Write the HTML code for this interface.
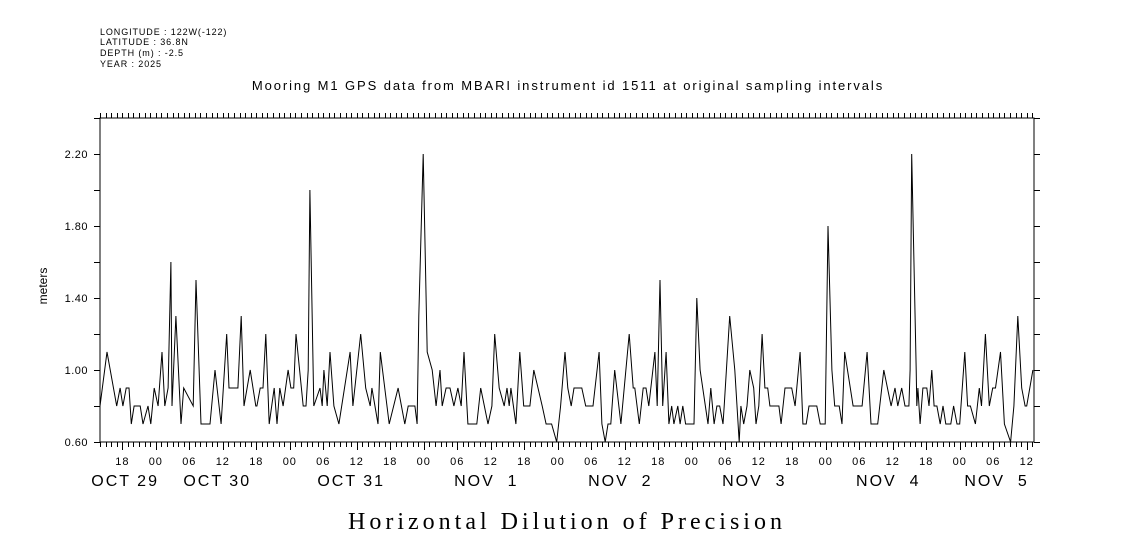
<!DOCTYPE html>
<html><head><meta charset="utf-8"><style>
body{margin:0;background:#fff;width:1121px;height:560px;overflow:hidden}
svg{display:block}
text{font-family:"Liberation Sans",sans-serif;fill:#000}
</style></head><body>
<svg id="chart" width="1121" height="560" xmlns="http://www.w3.org/2000/svg">
<g font-size="9" letter-spacing="0.9">
<text x="100" y="35">LONGITUDE : 122W(-122)</text>
<text x="100" y="45">LATITUDE : 36.8N</text>
<text x="100" y="56">DEPTH (m) : -2.5</text>
<text x="100" y="67">YEAR : 2025</text>
</g>
<text x="568" y="90" font-size="13" letter-spacing="1.9" text-anchor="middle">Mooring M1 GPS data from MBARI instrument id 1511 at original sampling intervals</text>
<text x="567" y="529" font-size="24" letter-spacing="4" text-anchor="middle" style="font-family:'Liberation Serif',serif">Horizontal Dilution of Precision</text>
<text transform="translate(47,286) rotate(-90)" font-size="12" text-anchor="middle">meters</text>
<rect x="100" y="118" width="934" height="324" fill="none" stroke="#000" stroke-width="1"/>
<g id="axes"></g>
<path id="series" fill="none" stroke="#000" stroke-width="1"/>
</svg>
<script>
const times=[0,1.25,3,3.6,4.1,4.7,5.2,5.6,6.1,7.2,7.7,8.6,9.1,9.7,10.4,11.1,11.6,12.2,12.7,12.9,13.6,14.5,15.0,16.7,17.2,18.1,19.7,20.6,21.7,22.7,23.1,24.7,25.3,25.8,26.9,27.9,
28.1,28.7,29.2,29.7,30.3,31.2,31.7,32.2,32.8,33.7,34.2,34.7,35.1,36.4,36.9,37.3,37.6,38.3,39.4,39.8,40.1,40.7,41.2,41.9,42.8,44.8,45.3,46.7,47.6,48.4,48.7,49.8,50.2,51.8,53.4,54.6,55.2,56.2,
56.4,56.8,57.1,57.9,58.6,59.5,60.2,60.9,61.3,62.0,62.7,63.4,64.1,64.7,65.2,65.9,67.5,68.2,69.5,70.2,70.7,71.5,72.4,72.9,73.3,73.6,74.5,75.2,75.9,77.0,77.7,79.2,79.9,80.9,81.8,82.5,83.3,
83.8,84.4,84.9,86.3,87.0,88.3,89.4,89.9,90.5,91.0,91.5,92.2,93.3,94.8,95.5,95.8,96.6,97.3,97.8,98.3,99.4,99.8,100.3,100.8,101.4,101.9,102.4,102.8,103.5,103.9,104.4,104.9,106.4,106.9,107.5,108.9,109.4,110.0,110.5,111.0,111.6,
111.8,112.8,113.7,114.5,114.8,115.3,115.9,116.4,117.1,117.5,118.0,118.6,119.1,119.6,120.0,121.6,122.0,122.7,123.9,124.5,125.4,125.9,126.5,127.0,128.4,129.0,129.9,130.4,131.1,131.6,132.4,132.9,133.4,134.9,136.5,137.4,138.1,139.3,
140.4,141.7,142.4,142.9,143.6,144.2,144.9,145.1,145.4,146.2,146.3,146.5,146.9,147.4,148.1,148.5,149.0,149.4,149.9,150.5,151.0,151.5,152.4,152.9,153.5,154.0,154.9,155.4,155.9,156.8,157.5,157.9,158.6,159.3,159.9,160.4,161.3,162.0,163.1,163.7,164.4,165.1,165.7,166.0,167.1];
const values=[0.8,1.1,0.8,0.9,0.8,0.9,0.9,0.7,0.8,0.8,0.7,0.8,0.7,0.9,0.8,1.1,0.8,0.9,1.6,0.8,1.3,0.7,0.9,0.8,1.5,0.7,0.7,1.0,0.7,1.2,0.9,0.9,1.3,0.8,1.0,0.8,
0.8,0.9,0.9,1.2,0.7,0.9,0.7,0.9,0.8,1.0,0.9,0.9,1.2,0.8,0.8,1.0,2.0,0.8,0.9,0.8,1.0,0.8,1.1,0.8,0.7,1.1,0.8,1.2,0.9,0.8,0.9,0.7,1.1,0.7,0.9,0.7,0.8,0.8,
0.8,0.7,1.3,2.2,1.1,1.0,0.8,1.0,0.8,0.9,0.9,0.8,0.9,0.8,1.1,0.7,0.7,0.9,0.7,0.8,1.2,0.9,0.8,0.9,0.8,0.9,0.7,1.1,0.8,0.8,1.0,0.8,0.7,0.7,0.6,0.8,1.1,
0.9,0.8,0.9,0.9,0.8,0.8,1.1,0.7,0.6,0.7,0.7,1.0,0.7,1.2,0.9,0.9,0.7,0.9,0.9,0.8,1.1,0.8,1.5,0.8,1.1,0.7,0.8,0.7,0.8,0.7,0.8,0.7,0.7,1.4,1.0,0.7,0.9,0.7,0.8,0.8,0.7,
0.8,1.3,1.0,0.6,0.8,0.7,0.8,1.0,0.9,0.7,0.8,1.2,0.9,0.9,0.8,0.8,0.7,0.9,0.9,0.8,1.1,0.7,0.7,0.8,0.8,0.7,0.7,1.8,1.0,0.8,0.8,0.7,1.1,0.8,0.8,1.1,0.7,0.7,
1.0,0.8,0.9,0.8,0.9,0.8,0.8,1.0,2.2,1.0,0.8,0.9,0.7,0.9,0.9,0.8,1.0,0.8,0.8,0.7,0.8,0.7,0.7,0.8,0.7,0.7,1.1,0.8,0.8,0.7,0.9,0.8,1.2,0.8,0.9,0.9,1.1,0.7,0.6,0.8,1.3,0.9,0.8,0.8,1.0];
const yTicks=[0.60,1.00,1.40,1.80,2.20];
const hourLabels=["18","00","06","12","18","00","06","12","18","00","06","12","18","00","06","12","18","00","06","12","18","00","06","12","18","00","06","12"];
const dateLabels=["OCT 29","OCT 30","OCT 31","NOV  1","NOV  2","NOV  3","NOV  4","NOV  5"];
const dateHours=[4.5,21,45,69.2,93.2,117.2,141.2,160.6];
const X0=100,X1=1034,Y0=442,Y1=118,HMAX=167.3,VMIN=0.6,VMAX=2.4;
function xs(h){return X0+h*(X1-X0)/HMAX;}
function ys(v){return Y0-(v-VMIN)*(Y0-Y1)/(VMAX-VMIN);}
const ns="http://www.w3.org/2000/svg";
const ax=document.getElementById('axes');
function line(x1,y1,x2,y2,name){const l=document.createElementNS(ns,'line');l.setAttribute('x1',x1);l.setAttribute('y1',y1);l.setAttribute('x2',x2);l.setAttribute('y2',y2);l.setAttribute('stroke','#000');


ax.appendChild(l);}
function txt(x,y,s,size,anchor,name,ls){const t=document.createElementNS(ns,'text');t.setAttribute('x',x);t.setAttribute('y',y);t.setAttribute('font-size',size);t.setAttribute('text-anchor',anchor);if(ls)t.setAttribute('letter-spacing',ls);t.setAttribute('xml:space','preserve');t.style.whiteSpace='pre';t.textContent=s;


ax.appendChild(t);}
for(let v=0.6;v<=2.41;v+=0.2){const y=Math.round(ys(v))+0.5;line(X0-6,y,X0,y,'y-tick');line(X1,y,X1+6,y,'y-tick-right');}
yTicks.forEach(v=>txt(X0-12,ys(v)+4,v.toFixed(2),11,'end','y-tick-label',0.5));
for(let h=0;h<=HMAX;h++){const x=Math.round(xs(h))+0.5;const major=((h+14)%6===0);
line(x,Y0,x,Y0+(major?8:5),'x-tick');line(x,Y1,x,Y1-5,'x-tick-top');}
let k=0;for(let h=0;h<=HMAX;h++){if((h+14)%6===0){txt(xs(h),465,hourLabels[k++],11,'middle','x-hour-label',1);}}
dateLabels.forEach((d,i)=>{txt(xs(dateHours[i]),486,d,16,'middle','x-date-label',2);});
let dstr='';times.forEach((t,i)=>{dstr+=(i?'L':'M')+xs(t).toFixed(1)+','+ys(values[i]).toFixed(1);});
document.getElementById('series').setAttribute('d',dstr);
</script>
</body></html>
